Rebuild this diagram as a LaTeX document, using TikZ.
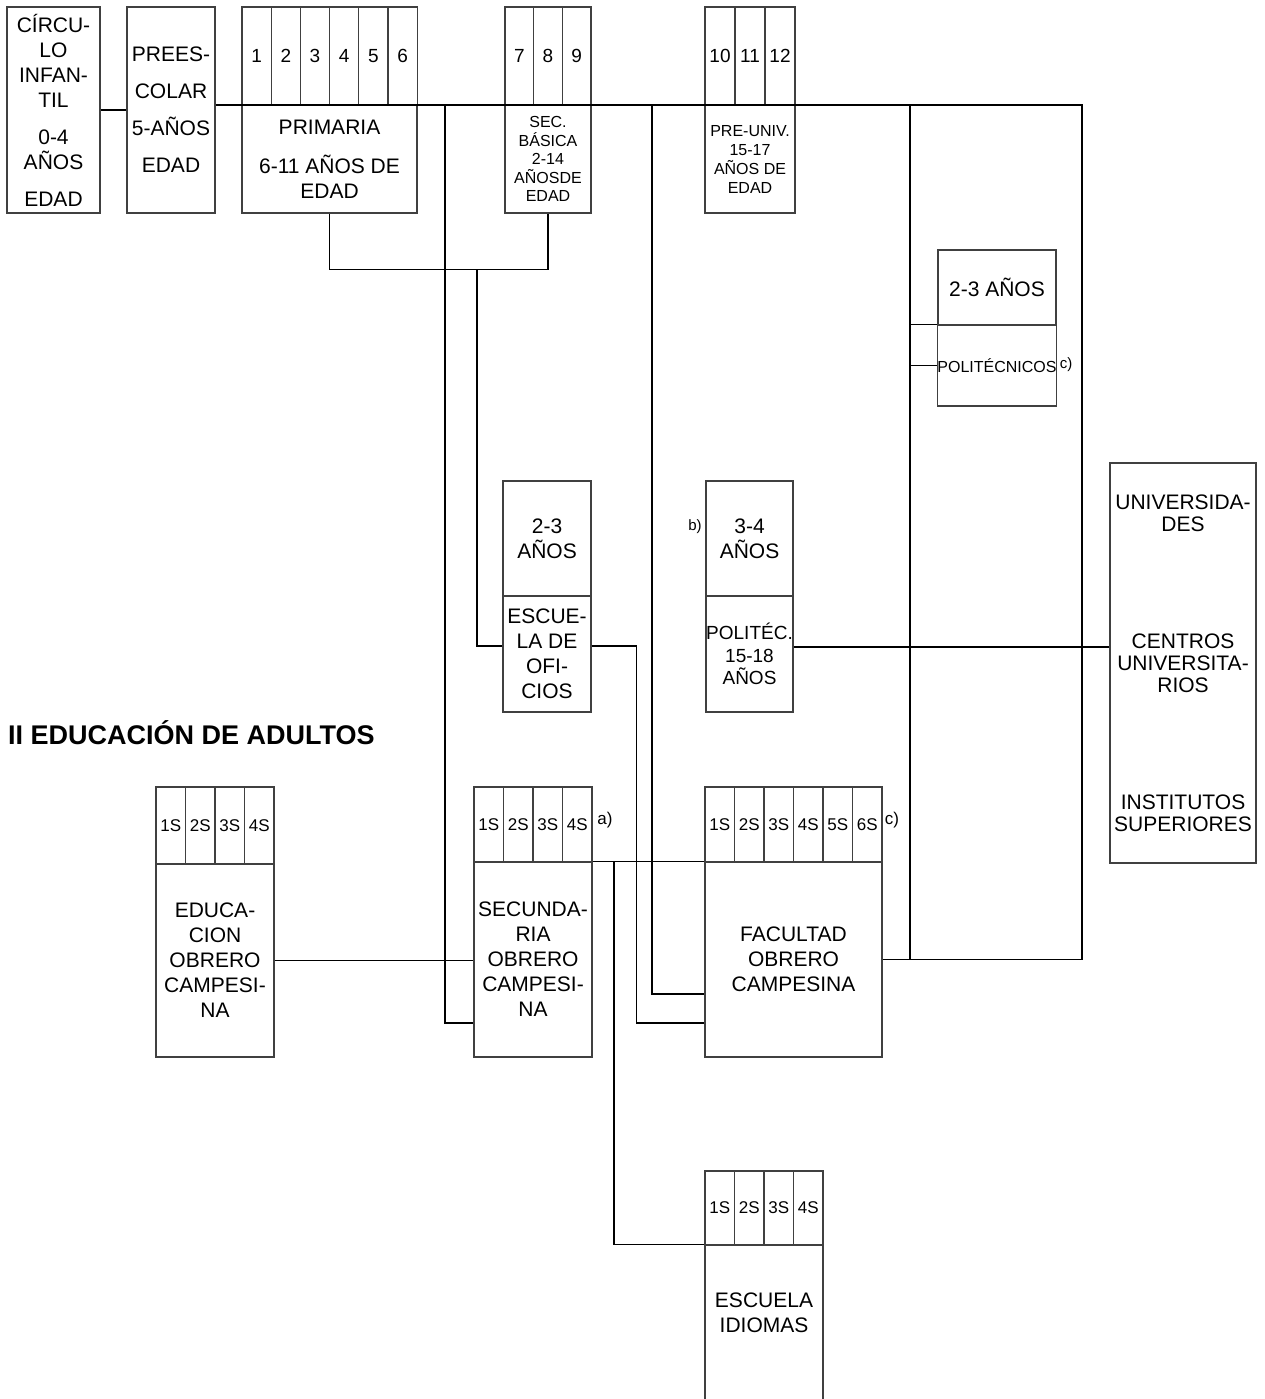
\documentclass[tikz,border=0pt]{standalone}
\usepackage{fontspec}
\setmainfont{Liberation Sans}
\usepackage{tikz}
\usetikzlibrary{positioning,calc}
\tikzstyle{line} = [draw, line width=1.2pt]
\tikzstyle{default}    = [rectangle, draw=black!75, line width=1.2pt, text centered, align=center, inner sep=0pt, font=\fontsize{21}{25}\selectfont]
\tikzstyle{cell}    = [default, font=\fontsize{19}{22}\selectfont, minimum width=29.2pt, minimum height=98pt]
\tikzstyle{semester}    = [cell, font=\fontsize{17}{20}\selectfont, minimum width=29.5pt, minimum height=75pt]
\tikzstyle{small}    = [default, font=\fontsize{16}{19}\selectfont]
\tikzstyle{note}    = [font=\fontsize{15}{18}\selectfont, inner sep=0pt]
\tikzstyle{title_text}    = [anchor=west, inner sep=0pt, font=\fontsize{27}{30}\bfseries]

\begin{document}
\begin{tikzpicture}[x=1pt, y=-1pt]
   \fill [white] (0,0) rectangle (1265,1399);
   \clip (0,0) rectangle (1265,1399);

   % Ensenanza general
   \node at (53.5, 110) [default, minimum width=93pt, minimum height=206pt] (circulo) {C\'IRCU-\\LO\\INFAN-\\TIL\\[12pt]0-4\\A\~NOS\\[12pt]EDAD};
   \node at (171, 110) [default, minimum width=88pt, minimum height=206pt] (prees) {PREES-\\[12pt]COLAR\\[12pt]5-A\~NOS\\[12pt]EDAD};

   % Primaria
   \node at (256.6, 56) [cell] (prim 1) {1};
   \node at (285.8, 56) [cell] (prim 2) {2};
   \node at (315, 56) [cell] (prim 3) {3};
   \node at (344.2, 56) [cell] (prim 4) {4};
   \node at (373.4, 56) [cell] (prim 5) {5};
   \node at (402.6, 56) [cell] (prim 6) {6};
   \node at (329.5, 159) [default, minimum width=175pt, minimum height=108pt] (primaria) {PRIMARIA\\[14pt]6-11 A\~NOS DE\\EDAD};

   % Secundaria basica
   \node at (519.3, 56) [cell, minimum width=28.7pt] (sec 7) {7};
   \node at (548, 56) [cell, minimum width=28.7pt] (sec 8) {8};
   \node at (576.7, 56) [cell, minimum width=28.7pt] (sec 9) {9};
   \node at (548, 159) [small, minimum width=86pt, minimum height=108pt, font=\fontsize{16}{18.5}\selectfont] (secbasica) {SEC.\\B\'ASICA\\2-14\\A\~NOSDE\\EDAD};

   % Preuniversitario
   \node at (720, 56) [cell, minimum width=30pt] (pre 10) {10};
   \node at (750, 56) [cell, minimum width=30pt] (pre 11) {11};
   \node at (780, 56) [cell, minimum width=30pt] (pre 12) {12};
   \node at (750, 159) [small, minimum width=90pt, minimum height=108pt] (preuniv) {PRE-UNIV.\\15-17\\A\~NOS DE\\EDAD};

   % Ensenanza tecnica
   \node at (997, 287.5) [default, minimum width=118pt, minimum height=75pt] (politecnicos top) {2-3 A\~NOS};
   \node at (997, 365.5) [default, minimum width=118pt, minimum height=81pt, font=\fontsize{16}{19}\selectfont] (politecnicos) {POLIT\'ECNICOS};
   \node at (547, 538.5) [default, minimum width=88pt, minimum height=115pt] (oficios top) {2-3\\A\~NOS};
   \node at (547, 654) [default, minimum width=88pt, minimum height=116pt] (oficios) {ESCUE-\\LA DE\\OFI-\\CIOS};
   \node at (749.5, 538.5) [default, minimum width=87pt, minimum height=115pt] (politec top) {3-4\\A\~NOS};
   \node at (749.5, 654) [default, minimum width=87pt, minimum height=116pt, font=\fontsize{19}{22.5}\selectfont] (politec) {POLIT\'EC.\\15-18\\A\~NOS};

   % Ensenanza superior
   \node at (1183, 663) [default, minimum width=146pt, minimum height=400pt, font=\fontsize{21}{22}\selectfont] (universidades) {UNIVERSIDA-\\DES\\[95pt]CENTROS\\UNIVERSITA-\\RIOS\\[95pt]INSTITUTOS\\SUPERIORES};

   % Educacion de adultos
   \node at (8, 733) [title_text] (adultos) {II EDUCACI\'ON DE ADULTOS};

   \node at (170.75, 825.5) [semester, minimum height=77pt] (edu 1) {1S};
   \node at (200.25, 825.5) [semester, minimum height=77pt] (edu 2) {2S};
   \node at (229.75, 825.5) [semester, minimum height=77pt] (edu 3) {3S};
   \node at (259.25, 825.5) [semester, minimum height=77pt] (edu 4) {4S};
   \node at (215, 960.5) [default, minimum width=118pt, minimum height=193pt] (educacion) {EDUCA-\\CION\\OBRERO\\CAMPESI-\\NA};

   \node at (488.75, 824.5) [semester] (soc 1) {1S};
   \node at (518.25, 824.5) [semester] (soc 2) {2S};
   \node at (547.75, 824.5) [semester] (soc 3) {3S};
   \node at (577.25, 824.5) [semester] (soc 4) {4S};
   \node at (533, 959.5) [default, minimum width=118pt, minimum height=195pt] (secundaria) {SECUNDA-\\RIA\\OBRERO\\CAMPESI-\\NA};

   \node at (719.75, 824.5) [semester] (foc 1) {1S};
   \node at (749.25, 824.5) [semester] (foc 2) {2S};
   \node at (778.75, 824.5) [semester] (foc 3) {3S};
   \node at (808.25, 824.5) [semester] (foc 4) {4S};
   \node at (837.75, 824.5) [semester] (foc 5) {5S};
   \node at (867.25, 824.5) [semester] (foc 6) {6S};
   \node at (793.5, 959.5) [default, minimum width=177pt, minimum height=195pt] (facultad) {FACULTAD\\OBRERO\\CAMPESINA};

   \node at (719.75, 1208) [semester, minimum height=74pt] (idi 1) {1S};
   \node at (749.25, 1208) [semester, minimum height=74pt] (idi 2) {2S};
   \node at (778.75, 1208) [semester, minimum height=74pt] (idi 3) {3S};
   \node at (808.25, 1208) [semester, minimum height=74pt] (idi 4) {4S};
   \node at (764, 1335) [default, minimum width=118pt, minimum height=180pt] (idiomas) {};
   \node at (764, 1313) [inner sep=0pt, align=center, font=\fontsize{21}{25}\selectfont] (idiomas text) {ESCUELA\\IDIOMAS};

   % notas
   \node at (605, 820) [note, font=\fontsize{17}{20}\selectfont] (nota a) {a)};
   \node at (695, 527) [note] (nota b) {b)};
   \node at (892, 820) [note, font=\fontsize{17}{20}\selectfont] (nota c fac) {c)};
   \node at (1066, 365) [note] (nota c poli) {c)};

   % Conexiones
   \coordinate (top right) at (1082, 105);
   \coordinate (adult fork) at (445, 105);
   \coordinate (oficios fork) at (477, 269);
   \coordinate (fac fork) at (652, 105);
   \coordinate (poli fork) at (910, 105);
   \coordinate (idiomas fork) at (614, 862);
   \path [line] (circulo.east) -- (prees.west);
   \path [line] (prees.east |- top right) -- (top right) |- (facultad.east);
   \path [line] (primaria.south) -- ++(0,56) -| (secbasica.south);
   \path [line] (adult fork) |- ([yshift=-63.5pt]secundaria.west);
   \path [line] (oficios fork) |- ([yshift=8pt]oficios.west);
   \path [line] ([yshift=8pt]oficios.east) -- ++(45,0) |- ([yshift=-63.5pt]facultad.west);
   \path [line] (fac fork) |- ([yshift=-34.5pt]facultad.west);
   \path [line] (poli fork) -- (poli fork |- facultad.east);
   \path [line] (poli fork |- politecnicos.north west) -- (politecnicos.north west);
   \path [line] (poli fork |- politecnicos.west) -- (politecnicos.west);
   \path [line] ([yshift=7pt]politec.east) -- ([yshift=7pt]politec.east -| universidades.west);
   \path [line] (educacion.east) -- (educacion.east -| secundaria.west);
   \path [line] (secundaria.north east) -- (facultad.north west);
   \path [line] (idiomas fork) |- (idiomas.north west);

\end{tikzpicture}
\end{document}
